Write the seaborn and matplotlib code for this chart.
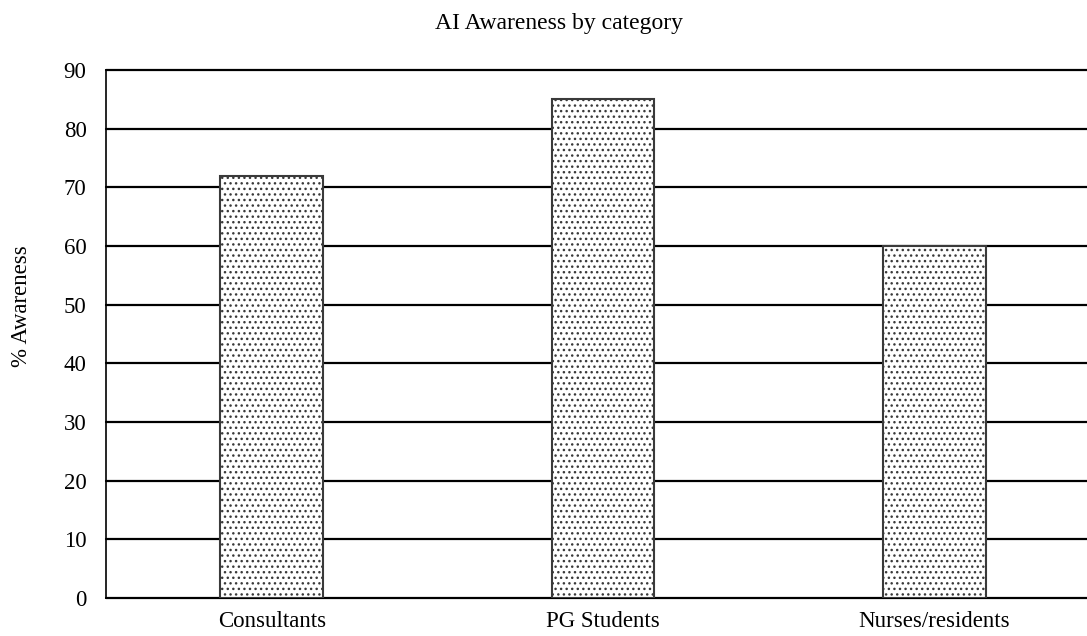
import matplotlib
matplotlib.use("Agg")
import matplotlib.pyplot as plt
import seaborn as sns
import pandas as pd

categories = ["Consultants", "PG Students", "Nurses/residents"]
awareness = [72, 85, 60]

df = pd.DataFrame({"category": categories, "awareness": awareness})

sns.set_style("white", {"text.color": "black", "xtick.color": "black",
                        "ytick.color": "black", "axes.labelcolor": "black"})
plt.rcParams["font.family"] = ["Liberation Serif", "DejaVu Serif"]
plt.rcParams["hatch.linewidth"] = 1.0
plt.rcParams["hatch.color"] = "black"

fig = plt.figure(figsize=(10.87, 6.36), dpi=100)
ax = fig.add_axes([0.0975, 0.0597, 0.9025, 0.8303])

sns.barplot(data=df, x="category", y="awareness", color="white",
            width=0.31, edgecolor="#3a3a3a", linewidth=1.5, ax=ax, zorder=3)
for p in ax.patches:
    p.set_hatch("...")

ax.set_ylim(0, 90)
ax.set_yticks(range(0, 91, 10))
ax.set_xlim(-0.5, 2.46)
ax.yaxis.grid(True, color="black", linewidth=1.6, zorder=0)
ax.set_axisbelow(True)
for gl in ax.yaxis.get_gridlines():
    gl.set_clip_on(False)

for side in ["top", "right"]:
    ax.spines[side].set_visible(False)
ax.spines["left"].set_color("black")
ax.spines["bottom"].set_color("black")
ax.spines["left"].set_linewidth(1.2)
ax.spines["bottom"].set_linewidth(1.2)

ax.tick_params(axis="y", labelsize=16.5, length=0, pad=14, labelcolor="black")
ax.tick_params(axis="x", labelsize=16.5, length=0, pad=9, labelcolor="black")
ax.set_xlabel("")
ax.set_ylabel("")
fig.text(22 / 1087, 1 - 306 / 636, "% Awareness", rotation=90,
         ha="center", va="center", fontsize=16.5, color="black")
fig.text(559 / 1087, 1 - 23 / 636, "AI Awareness by category",
         ha="center", va="center", fontsize=17, color="black")

fig.savefig("out.png", dpi=100)
